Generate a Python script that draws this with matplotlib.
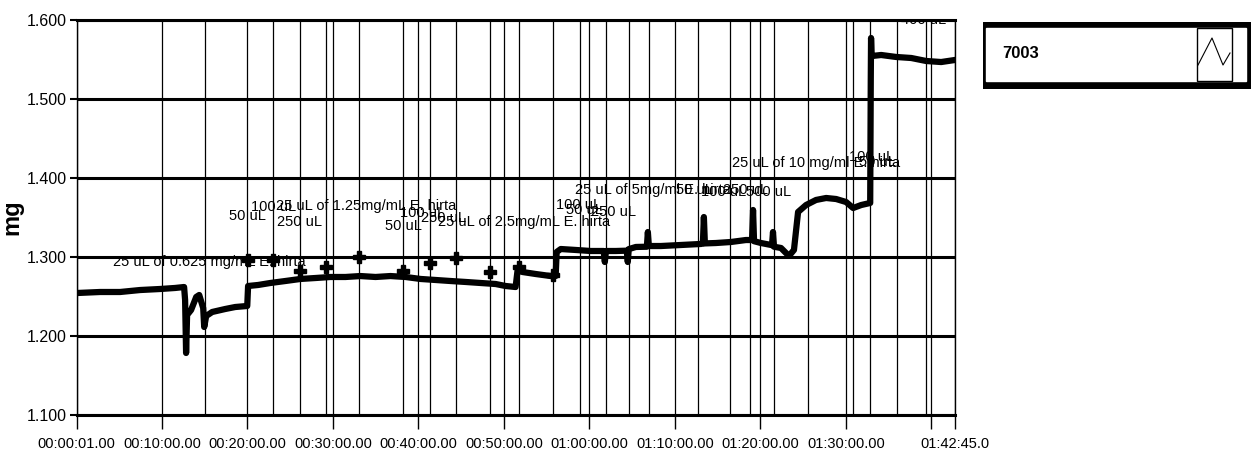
import matplotlib
matplotlib.use('Agg')
import matplotlib.pyplot as plt
from matplotlib.patches import Rectangle
from matplotlib.ticker import FormatStrFormatter

plt.rcParams['font.family'] = ['Liberation Sans', 'DejaVu Sans']

# mass trace (time in seconds, mass in mg)
trace_t = [1, 166, 307, 447, 588, 693, 756, 763, 770, 777, 805, 841, 862, 890, 897, 911,
           953, 1045, 1115, 1199, 1205, 1276, 1361, 1466, 1572, 1677, 1783, 1888, 1993,
           2099, 2204, 2310, 2415, 2521, 2626, 2731, 2837, 2942, 3012, 3082, 3096, 3131,
           3222, 3328, 3363, 3370, 3399, 3504, 3610, 3700, 3708, 3716, 3785, 3862, 3869,
           3876, 3926, 4003, 4010, 4017, 4101, 4242, 4382, 4396, 4403, 4410, 4487, 4593,
           4698, 4741, 4748, 4755, 4804, 4881, 4888, 4895, 4944, 5000, 5035, 5064, 5120,
           5190, 5261, 5331, 5401, 5450, 5507, 5570, 5574, 5576, 5580, 5647, 5752, 5858,
           5963, 6068, 6165]
trace_mg = [1.2544, 1.2557, 1.2557, 1.2582, 1.2595, 1.2608, 1.2620, 1.2456, 1.1785, 1.2266,
            1.2329, 1.2494, 1.2519, 1.2354, 1.2114, 1.2253, 1.2304, 1.2342, 1.2367, 1.2380,
            1.2633, 1.2646, 1.2671, 1.2696, 1.2722, 1.2734, 1.2747, 1.2747, 1.2759, 1.2747,
            1.2759, 1.2747, 1.2722, 1.2709, 1.2696, 1.2684, 1.2671, 1.2658, 1.2633, 1.2620,
            1.2835, 1.2810, 1.2785, 1.2759, 1.2759, 1.3063, 1.3101, 1.3089, 1.3076, 1.3076,
            1.2937, 1.3076, 1.3076, 1.3080, 1.2937, 1.3100, 1.3127, 1.3130, 1.3316, 1.3139,
            1.3139, 1.3152, 1.3165, 1.3170, 1.3506, 1.3172, 1.3177, 1.3190, 1.3215, 1.3215,
            1.3595, 1.3200, 1.3177, 1.3150, 1.3316, 1.3130, 1.3114, 1.3013, 1.3089, 1.3570,
            1.3658, 1.3722, 1.3747, 1.3734, 1.3696, 1.3620, 1.3658, 1.3684, 1.5241, 1.5772,
            1.5544, 1.5557, 1.5532, 1.5519, 1.5481, 1.5468, 1.5494]

# cursor positions (seconds)
cursor_t = [904, 1382, 1567, 1754, 1984, 2293, 2478, 2666, 2902, 3106, 3345, 3532, 3715,
            3877, 4015, 4359, 4589, 4725, 4894, 5132, 5446, 5572, 5758, 5964]
marker_t = [1205, 1382, 1567, 1754, 1984, 2293, 2478, 2666, 2902, 3106, 3345]
marker_mg = [1.2962, 1.2962, 1.2823, 1.2873, 1.3000, 1.2823, 1.2924, 1.2987, 1.2810,
             1.2873, 1.2772]

# cursor labels
label_text = ['25 uL of 0.625 mg/mL E. hirta', '50 uL', '100 uL', '250 uL',
              '25 uL of 1.25mg/mL E. hirta', '50 uL', '100 uL', '250 uL',
              '25 uL of 2.5mg/mL E. hirta', '100 uL', '25 uL of 5mg/ml E. hirta',
              '50 uL', '250 uL', '50 uL', '100 uL', '250 uL', '500 uL',
              '25 uL of 10 mg/ml E. hirta', '100 uL', '50 uL', '250 uL', '400 uL']
label_t = [258, 1073, 1227, 1410, 1403, 2169, 2274, 2415, 2536, 3364, 3501, 3435, 3610,
           4207, 4382, 4537, 4699, 4601, 5423, 5493, 5597, 5789]
label_mg = [1.2937, 1.3519, 1.3633, 1.3443, 1.3646, 1.3392, 1.3557, 1.3494, 1.3443,
            1.3658, 1.3848, 1.3595, 1.3570, 1.3848, 1.3823, 1.3848, 1.3823, 1.4190,
            1.4266, 1.4200, 1.6040, 1.6000]

xtick_t = [1, 600, 1200, 1800, 2400, 3000, 3600, 4200, 4800, 5400, 6000, 6165]
xtick_labels = ['00:00:01.00', '00:10:00.00', '00:20:00.00', '00:30:00.00', '00:40:00.00',
                '00:50:00.00', '01:00:00.00', '01:10:00.00', '01:20:00.00', '01:30:00.00',
                '', '01:42:45.0']
ytick_mg = [1.1, 1.2, 1.3, 1.4, 1.5, 1.6]

W, H = 1251, 474
fig = plt.figure(figsize=(W / 100, H / 100), dpi=100)
ax = fig.add_axes([76.5 / W, (H - 415) / H, (955 - 76.5) / W, 395 / H])

for t in cursor_t:
    ax.axvline(t, color='black', lw=0.9, zorder=1)

ax.plot(trace_t, trace_mg, color='black', lw=4.5, zorder=3)
ax.plot(marker_t, marker_mg, ls='none', marker='P', ms=9, color='black', zorder=4)

for txt, t, m in zip(label_text, label_t, label_mg):
    ax.text(t, m, txt, fontsize=10.5, ha='left', va='center', color='black',
            clip_on=True, zorder=5)

ax.set_xlim(1, 6165)
ax.set_ylim(1.1, 1.6)
ax.set_xticks(xtick_t)
ax.set_xticklabels(xtick_labels, fontsize=10.5)
ax.set_yticks(ytick_mg)
ax.yaxis.set_major_formatter(FormatStrFormatter('%.3f'))
for lab in ax.get_yticklabels():
    lab.set_fontsize(11.5)
ax.grid(axis='x', color='black', lw=0.9)
ax.grid(axis='y', color='black', lw=2.2)
ax.tick_params(axis='x', length=10, width=1, pad=6, direction='out')
ax.tick_params(axis='y', length=5, width=1.5, pad=2, direction='out')
for side in ['top', 'bottom']:
    ax.spines[side].set_linewidth(2.2)
for side in ['left', 'right']:
    ax.spines[side].set_linewidth(1)
ax.set_ylabel('mg', fontsize=17, fontweight='bold')
ax.yaxis.set_label_coords(-0.060, 0.5)

# legend panel on the right
lg = fig.add_axes([983 / W, (H - 89) / H, (W - 983) / W, 67 / H])
lg.set_xlim(0, W - 983)
lg.set_ylim(0, 67)
lg.axis('off')
lg.add_patch(Rectangle((0, 0), W - 983, 67, color='black'))
lg.add_patch(Rectangle((3, 8), 260, 53, color='white'))
lg.add_patch(Rectangle((214, 8), 35, 53, facecolor='white', edgecolor='black', lw=1))
lg.plot([215, 229, 240, 247], [24, 51, 24, 36], color='black', lw=0.8)
lg.text(19, 35, '7003', fontsize=12, va='center', ha='left', fontweight='bold')

fig.savefig('out.png', dpi=100)
